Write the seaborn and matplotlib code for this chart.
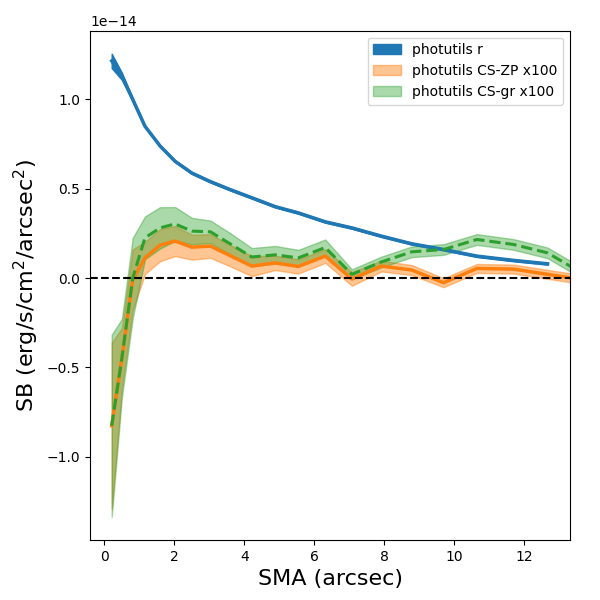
import numpy as np
import matplotlib
matplotlib.use('Agg')
import matplotlib.pyplot as plt
import seaborn as sns

# semi-major axis (arcsec)
sma = np.array([0.21, 0.50, 0.81, 1.16, 1.59, 2.02, 2.50, 3.03, 3.60, 4.21, 4.88,
                5.54, 6.31, 7.07, 7.91, 8.78, 9.69, 10.64, 11.69, 12.66, 13.70])

# surface brightness, units of 1e-14
sb_r = np.array([1.216, 1.13, 1.00, 0.85, 0.74, 0.654, 0.588, 0.54, 0.495, 0.45, 0.40,
                 0.365, 0.315, 0.281, 0.235, 0.192, 0.16, 0.123, 0.099, 0.08])
sb_r_err = np.array([0.04, 0.02, 0.008, 0.005, 0.005, 0.005, 0.005, 0.005, 0.005, 0.005,
                     0.005, 0.005, 0.005, 0.005, 0.005, 0.005, 0.005, 0.005, 0.005, 0.005])

sb_zp = np.array([-0.827, -0.45, -0.01, 0.113, 0.184, 0.207, 0.173, 0.179, 0.125, 0.067, 0.085,
                  0.065, 0.123, -0.005, 0.067, 0.045, -0.026, 0.054, 0.05, 0.021, -0.01])
sb_zp_err = np.array([0.465, 0.17, 0.17, 0.09, 0.09, 0.084, 0.07, 0.066, 0.06, 0.056, 0.04,
                      0.04, 0.038, 0.038, 0.03, 0.028, 0.025, 0.025, 0.025, 0.025, 0.025])

sb_gr = np.array([-0.827, -0.449, 0.0, 0.225, 0.281, 0.303, 0.263, 0.259, 0.191, 0.118, 0.13,
                  0.113, 0.171, 0.021, 0.09, 0.147, 0.16, 0.216, 0.188, 0.141, 0.021])
sb_gr_err = np.array([0.51, 0.22, 0.225, 0.12, 0.116, 0.095, 0.074, 0.063, 0.06, 0.05, 0.05,
                      0.045, 0.045, 0.028, 0.03, 0.03, 0.03, 0.03, 0.03, 0.03, 0.03])

scale = 1e-14
n_r = len(sb_r)

fig, ax = plt.subplots(figsize=(6, 6), dpi=100)

# bands
ax.fill_between(sma[:n_r], (sb_r - sb_r_err) * scale, (sb_r + sb_r_err) * scale,
                color='C0', label='photutils r')
ax.fill_between(sma, (sb_zp - sb_zp_err) * scale, (sb_zp + sb_zp_err) * scale,
                color='C1', alpha=0.45, label='photutils CS-ZP x100')
ax.fill_between(sma, (sb_gr - sb_gr_err) * scale, (sb_gr + sb_gr_err) * scale,
                color='C2', alpha=0.4, label='photutils CS-gr x100')

# lines
sns.lineplot(x=sma[:n_r], y=sb_r * scale, color='C0', lw=2.5, ax=ax)
sns.lineplot(x=sma, y=sb_zp * scale, color='C1', lw=2.5, ax=ax)
sns.lineplot(x=sma, y=sb_gr * scale, color='C2', lw=2.2, linestyle='--', ax=ax)

ax.axhline(0, color='k', ls='--', lw=1.5)

ax.set_xlim(-0.41, 13.3)
ax.set_xlabel('SMA (arcsec)', fontsize=16)
ax.set_ylabel('SB (erg/s/cm$^2$/arcsec$^2$)', fontsize=16)
ax.legend(loc='upper right')

plt.subplots_adjust(left=0.15, right=0.95, top=0.949, bottom=0.10)
plt.savefig('out.png', dpi=100)
plt.close()
